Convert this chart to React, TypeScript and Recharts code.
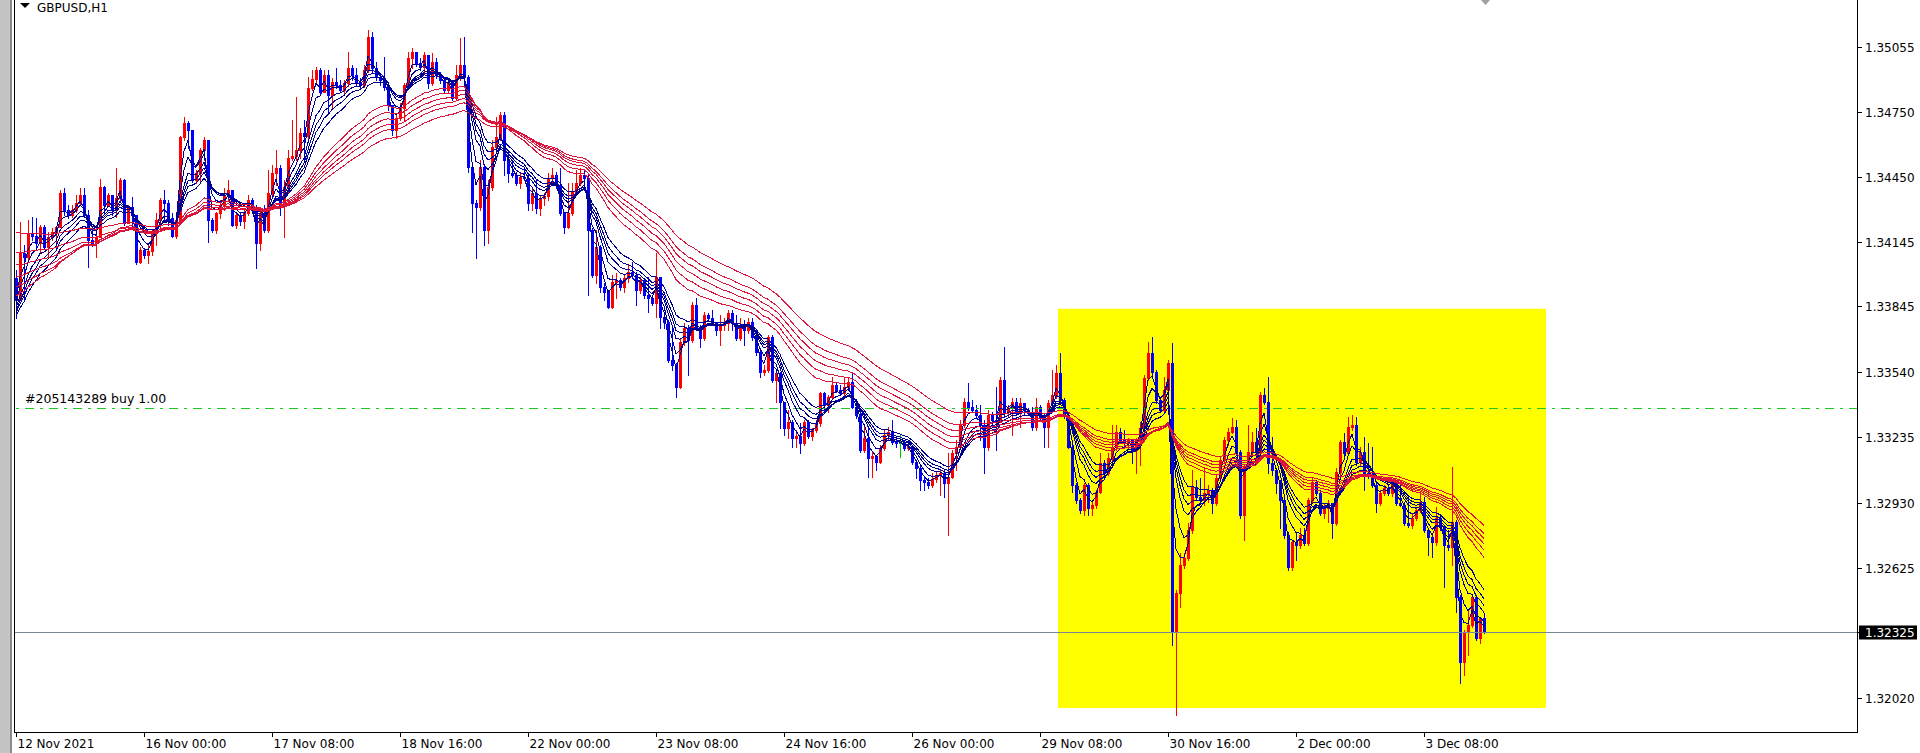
import React from "react";
import {
  ComposedChart,
  Bar,
  Line,
  XAxis,
  YAxis,
  ReferenceLine,
  ReferenceArea,
} from "recharts";

// GBPUSD H1, one bar per hour, first bar 12 Nov 2021 16:00
const firstOpen = 1.33977;

const closes = [
  1.33874, 1.34093, 1.34075, 1.34187, 1.34173, 1.3414, 1.34215, 1.34121, 1.34168, 1.34191,
  1.34215, 1.34373, 1.34294, 1.34271, 1.34294, 1.34327, 1.34364, 1.34271, 1.34154, 1.3414,
  1.34168, 1.34401, 1.34317, 1.34364, 1.34294, 1.3435, 1.34434, 1.34233, 1.34308, 1.34271,
  1.34052, 1.34107, 1.34084, 1.34103, 1.34187, 1.34247, 1.34341, 1.34327, 1.34257, 1.34173,
  1.34247, 1.34634, 1.347, 1.34667, 1.34434, 1.34466, 1.34574, 1.3462, 1.34247, 1.34201,
  1.3428, 1.34317, 1.34364, 1.34387, 1.34224, 1.34271, 1.34243, 1.3428, 1.34341, 1.34294,
  1.3414, 1.3428, 1.34201, 1.34373, 1.34466, 1.3449, 1.34317, 1.34401, 1.34536, 1.34546,
  1.34574, 1.34653, 1.34639, 1.34863, 1.34905, 1.34947, 1.34844, 1.34923, 1.3483, 1.34891,
  1.34877, 1.34853, 1.34886, 1.34956, 1.34923, 1.34891, 1.34877, 1.34947, 1.35101, 1.34956,
  1.34914, 1.349, 1.34867, 1.34783, 1.34667, 1.34723, 1.34769, 1.34877, 1.35003, 1.35031,
  1.34979, 1.34961, 1.35017, 1.34886, 1.34984, 1.34923, 1.349, 1.34853, 1.34891, 1.34816,
  1.34923, 1.3497, 1.34914, 1.34494, 1.34327, 1.34308, 1.34494, 1.34201, 1.34401, 1.34588,
  1.34634, 1.34737, 1.34527, 1.34466, 1.34457, 1.3442, 1.34448, 1.34443, 1.34327, 1.34373,
  1.34303, 1.3435, 1.34359, 1.34443, 1.34457, 1.34411, 1.3428, 1.34215, 1.3428, 1.34378,
  1.3442, 1.34457, 1.34443, 1.34201, 1.33991, 1.34121, 1.33935, 1.33912, 1.33842, 1.33958,
  1.33968, 1.33935, 1.33977, 1.34005, 1.33991, 1.33921, 1.33968, 1.33898, 1.33884, 1.3386,
  1.33982, 1.33795, 1.33772, 1.33595, 1.33571, 1.33469, 1.33679, 1.33744, 1.33688, 1.33851,
  1.33749, 1.33697, 1.33804, 1.3379, 1.33767, 1.33735, 1.33758, 1.33767, 1.33814, 1.33767,
  1.33697, 1.33758, 1.33735, 1.33772, 1.33702, 1.33632, 1.33539, 1.33548, 1.33702, 1.33501,
  1.33534, 1.33399, 1.33278, 1.33306, 1.33231, 1.3324, 1.33208, 1.33306, 1.3324, 1.33268,
  1.33301, 1.33441, 1.33385, 1.33422, 1.33478, 1.33455, 1.33441, 1.33469, 1.33492, 1.33376,
  1.33338, 1.33175, 1.33231, 1.33138, 1.33147, 1.33119, 1.33184, 1.33245, 1.33259, 1.33212,
  1.33208, 1.33208, 1.33184, 1.33194, 1.33119, 1.33091, 1.33035, 1.33026, 1.33012, 1.3304,
  1.33058, 1.33068, 1.33021, 1.33049, 1.33161, 1.33189, 1.33292, 1.33399, 1.33376, 1.33362,
  1.33338, 1.33292, 1.33189, 1.33338, 1.33315, 1.33306, 1.33501, 1.33352, 1.33371, 1.33399,
  1.33348, 1.33394, 1.33362, 1.33348, 1.33282, 1.33376, 1.33324, 1.33282, 1.33394, 1.33431,
  1.33534, 1.33408, 1.33338, 1.33189, 1.33012, 1.32942, 1.32895, 1.33012, 1.32905, 1.32919,
  1.32979, 1.33114, 1.33068, 1.33138, 1.33189, 1.33259, 1.33222, 1.33208, 1.33222, 1.33175,
  1.33222, 1.33278, 1.33511, 1.33627, 1.33539, 1.33408, 1.33362, 1.33455, 1.33581, 1.32327,
  1.32508, 1.32639, 1.32672, 1.32802, 1.33003, 1.32956, 1.32942, 1.32975, 1.32989, 1.32928,
  1.33045, 1.33128, 1.33222, 1.33259, 1.33282, 1.33166, 1.32872, 1.33096, 1.33166, 1.33212,
  1.33166, 1.33431, 1.33399, 1.33114, 1.33082, 1.33021, 1.32942, 1.32779, 1.3263, 1.32746,
  1.32732, 1.32779, 1.32741, 1.32942, 1.33026, 1.32975, 1.32881, 1.32905, 1.32928, 1.32835,
  1.33073, 1.33212, 1.33161, 1.33282, 1.33292, 1.33119, 1.33166, 1.33068, 1.33058, 1.33012,
  1.32928, 1.32975, 1.32998, 1.32975, 1.33026, 1.32928, 1.32919, 1.32835, 1.32825, 1.32858,
  1.32895, 1.32933, 1.32802, 1.32769, 1.32746, 1.32858, 1.32816, 1.32732, 1.32723, 1.32839,
  1.3249, 1.32187, 1.32327, 1.32359, 1.3249, 1.32299, 1.32392, 1.32325,
];

const highs = [
  1.34014, 1.34238, 1.34131, 1.34247, 1.34261, 1.34257, 1.34224, 1.34224, 1.34191, 1.3421,
  1.34219, 1.34387, 1.34397, 1.34317, 1.34317, 1.34364, 1.34397, 1.34397, 1.34294, 1.3421,
  1.34191, 1.34438, 1.34406, 1.34373, 1.34355, 1.3449, 1.34443, 1.34438, 1.34317, 1.34355,
  1.34271, 1.34121, 1.34117, 1.3414, 1.34201, 1.3428, 1.3435, 1.34387, 1.34341, 1.3428,
  1.34271, 1.34639, 1.34728, 1.34709, 1.34662, 1.3448, 1.34583, 1.34634, 1.34583, 1.34257,
  1.34285, 1.34341, 1.34397, 1.34434, 1.34387, 1.3428, 1.3428, 1.34294, 1.34364, 1.3435,
  1.34317, 1.34308, 1.34317, 1.3448, 1.34504, 1.34574, 1.34504, 1.34434, 1.34574, 1.34714,
  1.34821, 1.34676, 1.34714, 1.34914, 1.34947, 1.34961, 1.34956, 1.34947, 1.34947, 1.34909,
  1.34956, 1.349, 1.349, 1.35031, 1.3497, 1.34956, 1.34909, 1.3497, 1.35133, 1.35124,
  1.34984, 1.34923, 1.35007, 1.34877, 1.34783, 1.34746, 1.34793, 1.34886, 1.35031, 1.35049,
  1.35031, 1.35003, 1.35031, 1.34993, 1.35026, 1.35003, 1.34937, 1.34909, 1.349, 1.349,
  1.3497, 1.35096, 1.35101, 1.34923, 1.34504, 1.34341, 1.34527, 1.34504, 1.34434, 1.3462,
  1.34728, 1.34751, 1.34751, 1.34574, 1.34527, 1.34471, 1.34471, 1.3449, 1.34457, 1.34397,
  1.34434, 1.34364, 1.34373, 1.34466, 1.3449, 1.34471, 1.3449, 1.34285, 1.3442, 1.3442,
  1.3448, 1.3449, 1.3448, 1.34457, 1.3421, 1.34201, 1.34131, 1.33954, 1.33921, 1.33991,
  1.34, 1.33977, 1.33991, 1.34038, 1.34052, 1.34005, 1.33982, 1.33977, 1.33982, 1.33898,
  1.34093, 1.33982, 1.33804, 1.33781, 1.33749, 1.33581, 1.33697, 1.33767, 1.33758, 1.33865,
  1.33884, 1.33758, 1.33818, 1.33814, 1.33828, 1.33772, 1.33804, 1.3379, 1.33828, 1.33828,
  1.33804, 1.3379, 1.33781, 1.3379, 1.3379, 1.33721, 1.33641, 1.33571, 1.33711, 1.33711,
  1.33548, 1.33539, 1.33385, 1.33362, 1.33315, 1.33268, 1.33301, 1.33315, 1.33315, 1.33278,
  1.33315, 1.33445, 1.33445, 1.33431, 1.33515, 1.33487, 1.33478, 1.33511, 1.33515, 1.33534,
  1.33385, 1.33348, 1.33282, 1.33282, 1.33166, 1.33152, 1.33198, 1.33268, 1.33282, 1.33315,
  1.33236, 1.33245, 1.33222, 1.33208, 1.33198, 1.33128, 1.331, 1.33054, 1.33045, 1.33068,
  1.33073, 1.33082, 1.33082, 1.33161, 1.33175, 1.33222, 1.33315, 1.33417, 1.33487, 1.33408,
  1.33385, 1.33385, 1.33315, 1.33362, 1.33352, 1.33469, 1.33515, 1.33655, 1.33385, 1.33417,
  1.33417, 1.33417, 1.33385, 1.33371, 1.33376, 1.33417, 1.33385, 1.33348, 1.33408, 1.33548,
  1.33571, 1.33627, 1.33417, 1.33348, 1.33198, 1.33021, 1.32951, 1.33021, 1.33021, 1.32942,
  1.32989, 1.33161, 1.33128, 1.33161, 1.33292, 1.33292, 1.33278, 1.33268, 1.33231, 1.33222,
  1.33231, 1.33306, 1.33525, 1.33679, 1.33702, 1.33548, 1.33422, 1.33515, 1.33595, 1.33674,
  1.32522, 1.32695, 1.32695, 1.32835, 1.33082, 1.33035, 1.33045, 1.33096, 1.33012, 1.32998,
  1.33058, 1.33142, 1.33236, 1.33278, 1.33324, 1.33315, 1.33175, 1.33105, 1.33292, 1.33259,
  1.33278, 1.33445, 1.33464, 1.33515, 1.33236, 1.33091, 1.33035, 1.32951, 1.32793, 1.32755,
  1.32788, 1.32811, 1.32811, 1.32951, 1.33049, 1.33035, 1.32989, 1.32928, 1.32942, 1.32928,
  1.33091, 1.33222, 1.33254, 1.33329, 1.33338, 1.33329, 1.33189, 1.33236, 1.33208, 1.33189,
  1.33021, 1.32989, 1.33012, 1.33012, 1.33035, 1.33026, 1.33012, 1.32933, 1.32965, 1.32881,
  1.32909, 1.32975, 1.32956, 1.32811, 1.32779, 1.32909, 1.32867, 1.32825, 1.32802, 1.33096,
  1.32849, 1.32499, 1.32336, 1.32429, 1.32499, 1.32499, 1.32396, 1.32415,
];

const lows = [
  1.3379, 1.33874, 1.33874, 1.34061, 1.34154, 1.34121, 1.34098, 1.34117, 1.3407, 1.34154,
  1.34121, 1.34224, 1.34271, 1.34257, 1.34261, 1.34285, 1.34317, 1.34261, 1.34028, 1.34126,
  1.34075, 1.34271, 1.3428, 1.34313, 1.34271, 1.34261, 1.34341, 1.34224, 1.34257, 1.34215,
  1.34042, 1.34047, 1.3407, 1.34047, 1.34084, 1.34131, 1.3421, 1.34247, 1.34224, 1.34168,
  1.34163, 1.34247, 1.3462, 1.34583, 1.34425, 1.3442, 1.3442, 1.34527, 1.34145, 1.34191,
  1.34187, 1.34257, 1.34294, 1.34341, 1.34219, 1.3421, 1.34224, 1.3421, 1.34271, 1.3428,
  1.34024, 1.34107, 1.34191, 1.34191, 1.34355, 1.34411, 1.34271, 1.34168, 1.34378, 1.34527,
  1.34527, 1.34536, 1.34527, 1.3463, 1.34853, 1.34891, 1.3483, 1.34844, 1.34751, 1.34774,
  1.34863, 1.34844, 1.34839, 1.34872, 1.349, 1.34877, 1.34863, 1.34867, 1.34937, 1.34937,
  1.349, 1.34877, 1.34853, 1.3476, 1.34644, 1.3463, 1.34714, 1.34714, 1.34867, 1.34956,
  1.34965, 1.34947, 1.34933, 1.34863, 1.34877, 1.34909, 1.34886, 1.34844, 1.34839, 1.34807,
  1.34807, 1.349, 1.349, 1.34471, 1.34191, 1.3407, 1.34294, 1.34131, 1.3414, 1.34387,
  1.34574, 1.3462, 1.34457, 1.34425, 1.34448, 1.34411, 1.34397, 1.34434, 1.34294, 1.34294,
  1.3428, 1.34271, 1.34317, 1.34341, 1.34425, 1.34397, 1.34271, 1.34187, 1.3421, 1.34271,
  1.34373, 1.34411, 1.34434, 1.33898, 1.33982, 1.33954, 1.33912, 1.33874, 1.33837, 1.33837,
  1.33884, 1.33921, 1.33912, 1.33958, 1.33977, 1.33851, 1.33907, 1.33884, 1.33818, 1.33851,
  1.33795, 1.33744, 1.33744, 1.33585, 1.33548, 1.33422, 1.33464, 1.33665, 1.33525, 1.33679,
  1.33735, 1.33655, 1.33688, 1.33781, 1.33758, 1.33711, 1.33665, 1.33735, 1.33735, 1.33735,
  1.33688, 1.33688, 1.33665, 1.33721, 1.33688, 1.33618, 1.33515, 1.33525, 1.33539, 1.33492,
  1.33399, 1.33278, 1.33245, 1.33231, 1.33189, 1.33189, 1.33161, 1.33198, 1.33231, 1.33222,
  1.33259, 1.33287, 1.33362, 1.33352, 1.33417, 1.33445, 1.33431, 1.33431, 1.33455, 1.33371,
  1.33324, 1.33166, 1.33166, 1.33049, 1.33049, 1.33082, 1.33114, 1.33175, 1.33222, 1.33203,
  1.33189, 1.33142, 1.33175, 1.33175, 1.3311, 1.33045, 1.32989, 1.32989, 1.32998, 1.33003,
  1.33026, 1.32965, 1.32956, 1.32779, 1.33045, 1.33082, 1.33184, 1.33282, 1.33362, 1.33352,
  1.33324, 1.33222, 1.33068, 1.33175, 1.33292, 1.33175, 1.33315, 1.33338, 1.33334, 1.33245,
  1.33338, 1.33282, 1.33338, 1.33338, 1.33268, 1.33268, 1.33315, 1.33189, 1.33189, 1.33385,
  1.33417, 1.33399, 1.33324, 1.33184, 1.32979, 1.32928, 1.32881, 1.32872, 1.32872, 1.32872,
  1.32905, 1.32975, 1.33058, 1.33058, 1.33128, 1.33175, 1.33212, 1.33198, 1.33184, 1.33114,
  1.33068, 1.33105, 1.33268, 1.33501, 1.33525, 1.33394, 1.33352, 1.33352, 1.33445, 1.32266,
  1.3194, 1.32443, 1.32625, 1.32662, 1.32788, 1.32942, 1.32928, 1.32919, 1.32933, 1.32881,
  1.32919, 1.33035, 1.33119, 1.33198, 1.33254, 1.33152, 1.32858, 1.32755, 1.33091, 1.33152,
  1.33152, 1.33156, 1.3339, 1.33068, 1.33058, 1.32975, 1.32811, 1.32765, 1.32616, 1.32616,
  1.32662, 1.32718, 1.32732, 1.32732, 1.32933, 1.32965, 1.32872, 1.32858, 1.32839, 1.32765,
  1.32825, 1.33058, 1.33152, 1.33152, 1.33268, 1.33105, 1.33105, 1.32989, 1.33045, 1.33003,
  1.32886, 1.32919, 1.32965, 1.32965, 1.32961, 1.32919, 1.32914, 1.32825, 1.32816, 1.32811,
  1.32849, 1.32886, 1.32793, 1.32686, 1.32676, 1.32732, 1.32802, 1.32536, 1.32709, 1.32639,
  1.3242, 1.32089, 1.32126, 1.32219, 1.3235, 1.32289, 1.32275, 1.3232,
];

// GMMA: short group (blue) and long group (red) exponential averages of the close
const shortPeriods = [3, 5, 8, 10, 12, 15];
const longPeriods = [30, 35, 40, 45, 50, 60];
// average values on the first visible bar (they carry history from before the window)
const shortStart = [1.33874, 1.33856, 1.33837, 1.33823, 1.33814, 1.338];
const longStart = [1.33893, 1.33935, 1.33982, 1.34038, 1.34098, 1.34191];

const timeTicks = [0, 32, 64, 96, 128, 160, 192, 224, 256, 288, 320, 352];
const timeLabels = [
  "12 Nov 2021", "16 Nov 00:00", "17 Nov 08:00", "18 Nov 16:00", "22 Nov 00:00", "23 Nov 08:00",
  "24 Nov 16:00", "26 Nov 00:00", "29 Nov 08:00", "30 Nov 16:00", "2 Dec 00:00", "3 Dec 08:00",
];
const priceTicks = [
  1.35055, 1.3475, 1.3445, 1.34145, 1.33845, 1.3354, 1.33235, 1.3293, 1.32625, 1.32325, 1.3202,
];

const bidPrice = 1.32325;
const orderPrice = 1.33369;
const orderText = "#205143289 buy 1.00";
const boxTop = 1.33834;
const boxBottom = 1.31972;
const boxFrom = 261;
const boxTo = 382;
const slots = 461; // bars on screen including the empty shift area on the right

const FONT = "'DejaVu Sans', Tahoma, sans-serif";

function ema(period: number, start: number) {
  const k = 2 / (period + 1);
  const out: number[] = [];
  let v = start;
  closes.forEach((c, i) => {
    v = i === 0 ? start : v + k * (c - v);
    out.push(v);
  });
  return out;
}

const shortLines = shortPeriods.map((p, j) => ema(p, shortStart[j]));
const longLines = longPeriods.map((p, j) => ema(p, longStart[j]));

const data = Array.from({ length: slots }, (_, i) => {
  if (i >= closes.length) return { i };
  const open = i === 0 ? firstOpen : closes[i - 1];
  const close = closes[i];
  const high = Math.max(highs[i], open, close);
  const low = Math.min(lows[i], open, close);
  const row: any = { i, open, close, high, low, range: [low, high] };
  shortPeriods.forEach((p, j) => (row["s" + p] = shortLines[j][i]));
  longPeriods.forEach((p, j) => (row["l" + p] = longLines[j][i]));
  return row;
});

const Candle = (props: any) => {
  const { x, y, width, height, payload } = props;
  if (!payload || payload.close == null) return null;
  const { open, close, high, low } = payload;
  const top = Math.min(y, y + height);
  const h = Math.abs(height);
  const span = high - low || 1;
  const py = (v: number) => top + ((high - v) / span) * h;
  const color = close > open ? "#ff0000" : close < open ? "#0000ff" : "#00c000";
  const cx = Math.round(x + width / 2);
  const wTop = Math.round(top);
  const wBot = Math.round(top + h);
  const bTop = Math.round(py(Math.max(open, close)));
  const bBot = Math.round(py(Math.min(open, close)));
  return (
    <g>
      <rect x={cx} y={wTop} width={1} height={Math.max(1, wBot - wTop + 1)} fill={color} />
      <rect x={cx - 1} y={bTop} width={3} height={Math.max(1, bBot - bTop + 1)} fill={color} />
    </g>
  );
};

const PriceTick = (props: any) => {
  const { y, payload } = props;
  const yy = Math.round(y) + 0.5;
  const isBid = Math.abs(payload.value - bidPrice) < 1e-7;
  return (
    <g>
      <line x1={1858} x2={1862} y1={yy} y2={yy} stroke="#000" />
      {isBid && <rect x={1859} y={yy - 7} width={58} height={14} fill="#000" />}
      <text
        x={1865}
        y={yy + 4.5}
        fill={isBid ? "#fff" : "#000"}
        fontSize={12}
        fontFamily={FONT}
      >
        {payload.value.toFixed(5)}
      </text>
    </g>
  );
};

const TimeTick = (props: any) => {
  const { x, payload } = props;
  const xx = Math.round(x) + 0.5;
  const label = timeLabels[timeTicks.indexOf(payload.value)];
  return (
    <g>
      <line x1={xx} x2={xx} y1={732} y2={737} stroke="#000" />
      <text x={xx + 1} y={748} fill="#000" fontSize={12} fontFamily={FONT}>
        {label}
      </text>
    </g>
  );
};

const OrderLabel = (props: any) => {
  const vb = props.viewBox || { x: 14, y: 408 };
  return (
    <text x={vb.x + 11} y={vb.y - 5} fill="#000" fontSize={12.5} fontFamily={FONT}>
      {orderText}
    </text>
  );
};

export default function App() {
  return (
    <div
      style={{
        position: "absolute",
        left: 0,
        top: 0,
        width: 1920,
        height: 753,
        background: "#fff",
        overflow: "hidden",
      }}
    >
      <ComposedChart
        width={1920}
        height={753}
        data={data}
        margin={{ top: 0, right: 0, bottom: 0, left: 14 }}
        barCategoryGap={0}
        barGap={0}
      >
        <XAxis
          dataKey="i"
          type="category"
          ticks={timeTicks}
          interval={0}
          tick={<TimeTick />}
          tickLine={false}
          axisLine={false}
          height={21}
        />
        <YAxis
          orientation="right"
          type="number"
          domain={[1.3186, 1.35273]}
          allowDataOverflow
          ticks={priceTicks}
          interval={0}
          tick={<PriceTick />}
          tickLine={false}
          axisLine={false}
          width={62}
        />
        <ReferenceArea
          x1={boxFrom}
          x2={boxTo}
          y1={boxBottom}
          y2={boxTop}
          fill="#ffff00"
          fillOpacity={1}
          stroke="none"
        />
        <ReferenceLine
          y={orderPrice}
          stroke="#1ec81e"
          strokeDasharray="9 6 3 6"
          shapeRendering="crispEdges"
          label={OrderLabel}
        />
        <ReferenceLine y={bidPrice} stroke="#778899" shapeRendering="crispEdges" />
        <Bar dataKey="range" shape={<Candle />} isAnimationActive={false} barSize={4} />
        {shortPeriods.map((p) => (
          <Line
            key={"s" + p}
            dataKey={"s" + p}
            stroke="#000090"
            strokeWidth={1}
            dot={false}
            activeDot={false}
            shapeRendering="crispEdges"
            isAnimationActive={false}
          />
        ))}
        {longPeriods.map((p) => (
          <Line
            key={"l" + p}
            dataKey={"l" + p}
            stroke="#dc143c"
            strokeWidth={1}
            dot={false}
            activeDot={false}
            shapeRendering="crispEdges"
            isAnimationActive={false}
          />
        ))}
      </ComposedChart>
      <svg
        width={1920}
        height={753}
        style={{ position: "absolute", left: 0, top: 0, pointerEvents: "none" }}
      >
        <rect x={0} y={0} width={10} height={753} fill="#c4c4c4" />
        <rect x={10} y={0} width={2} height={753} fill="#8a8a8a" />
        <line x1={14.5} x2={14.5} y1={0} y2={733} stroke="#000" />
        <line x1={1857.5} x2={1857.5} y1={0} y2={733} stroke="#000" />
        <line x1={14} x2={1858} y1={732.5} y2={732.5} stroke="#000" />
        <polygon points="20,3 30,3 25,8" fill="#000" />
        <text x={37} y={12} fill="#000" fontSize={12} fontFamily={FONT}>
          GBPUSD,H1
        </text>
        <polygon points="1481,0 1490,0 1485.5,5" fill="#a0a0a0" />
      </svg>
    </div>
  );
}
